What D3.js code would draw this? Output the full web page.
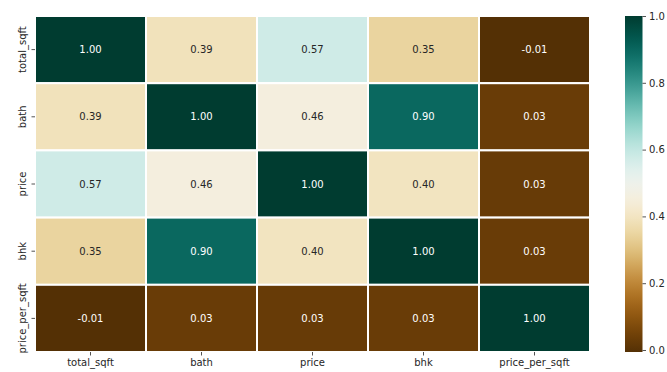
<!DOCTYPE html>
<html>
<head>
<meta charset="utf-8">
<script src="https://cdn.jsdelivr.net/npm/d3@7"></script>
<style>
  body { margin: 0; background: #fff; }
  text { font-family: "DejaVu Sans", sans-serif; }
</style>
</head>
<body>
<svg id="chart" width="667" height="372"></svg>
<script>
// Correlation matrix of the housing features
const features = ["total_sqft", "bath", "price", "bhk", "price_per_sqft"];
const corr = [
  [1.00, 0.39, 0.57, 0.35, -0.01],
  [0.39, 1.00, 0.46, 0.90, 0.03],
  [0.57, 0.46, 1.00, 0.40, 0.03],
  [0.35, 0.90, 0.40, 1.00, 0.03],
  [-0.01, 0.03, 0.03, 0.03, 1.00]
];
// Raw values used for colouring (labels are rounded to two decimals)
const corrRaw = [
  [1.000, 0.388, 0.575, 0.346, -0.006],
  [0.388, 1.000, 0.455, 0.898, 0.031],
  [0.575, 0.455, 1.000, 0.397, 0.028],
  [0.346, 0.898, 0.397, 1.000, 0.031],
  [-0.006, 0.031, 0.028, 0.031, 1.000]
];
const colorbarTicks = [0.0, 0.2, 0.4, 0.6, 0.8, 1.0];

const svg = d3.select("#chart");
const plotLeft = 35, plotRight = 590, plotTop = 16, plotBottom = 352;

const x = d3.scaleBand().domain(features).range([plotLeft, plotRight]);
const y = d3.scaleBand().domain(features).range([plotTop, plotBottom]);

const vmin = d3.min(corrRaw.flat()), vmax = 1.0;
const color = d3.scaleSequential(d3.interpolateBrBG).domain([vmin, vmax]);

const cells = [];
corrRaw.forEach((row, i) => row.forEach((v, j) => {
  cells.push({ r: features[i], c: features[j], v, label: corr[i][j].toFixed(2) });
}));

svg.append("g").selectAll("rect").data(cells).join("rect")
  .attr("x", d => x(d.c))
  .attr("y", d => y(d.r))
  .attr("width", x.bandwidth())
  .attr("height", y.bandwidth())
  .attr("fill", d => color(d.v))
  .attr("stroke", "#fff")
  .attr("stroke-width", 2);

function lum(c) {
  const rgb = d3.rgb(c);
  const f = v => { v /= 255; return v <= 0.03928 ? v / 12.92 : Math.pow((v + 0.055) / 1.055, 2.4); };
  return 0.2126 * f(rgb.r) + 0.7152 * f(rgb.g) + 0.0722 * f(rgb.b);
}

svg.append("g").selectAll("text").data(cells).join("text")
  .attr("x", d => x(d.c) + x.bandwidth() / 2)
  .attr("y", d => y(d.r) + y.bandwidth() / 2)
  .attr("text-anchor", "middle")
  .attr("dominant-baseline", "central")
  .attr("font-size", 10)
  .attr("fill", d => lum(color(d.v)) > 0.408 ? "#262626" : "#ffffff")
  .text(d => d.label);

// Axes
const xAxis = svg.append("g")
  .attr("transform", `translate(0,${plotBottom})`)
  .call(d3.axisBottom(x).tickSize(3.5).tickPadding(3));
const yAxis = svg.append("g")
  .attr("transform", `translate(${plotLeft},0)`)
  .call(d3.axisLeft(y).tickSize(3.5).tickPadding(3));
[xAxis, yAxis].forEach(g => {
  g.select(".domain").remove();
  g.selectAll(".tick line").attr("stroke", "#262626").attr("stroke-width", 0.8);
  g.selectAll(".tick text").attr("fill", "#262626").attr("font-size", 10)
    .attr("font-family", "DejaVu Sans, sans-serif");
});
yAxis.selectAll(".tick text")
  .attr("transform", "rotate(-90)")
  .attr("x", 0)
  .attr("dy", 0)
  .attr("y", -9.5)
  .attr("text-anchor", "middle");

// Colour bar
const cbX = 625, cbW = 17.5;
const cbScale = d3.scaleLinear().domain([vmin, vmax]).range([plotBottom, plotTop]);
const defs = svg.append("defs");
const grad = defs.append("linearGradient")
  .attr("id", "cbgrad").attr("x1", 0).attr("x2", 0).attr("y1", 1).attr("y2", 0);
d3.range(0, 1.0001, 0.02).forEach(t => {
  grad.append("stop").attr("offset", t).attr("stop-color", color(vmin + t * (vmax - vmin)));
});
svg.append("rect")
  .attr("x", cbX).attr("y", plotTop)
  .attr("width", cbW).attr("height", plotBottom - plotTop)
  .attr("fill", "url(#cbgrad)");

const cbAxis = svg.append("g")
  .attr("transform", `translate(${cbX + cbW},0)`)
  .call(d3.axisRight(cbScale).tickValues(colorbarTicks).tickFormat(d3.format(".1f")).tickSize(3.5).tickPadding(3));
cbAxis.select(".domain").remove();
cbAxis.selectAll(".tick line").attr("stroke", "#262626").attr("stroke-width", 0.8);
cbAxis.selectAll(".tick text").attr("fill", "#262626").attr("font-size", 10)
  .attr("font-family", "DejaVu Sans, sans-serif");
</script>
</body>
</html>
